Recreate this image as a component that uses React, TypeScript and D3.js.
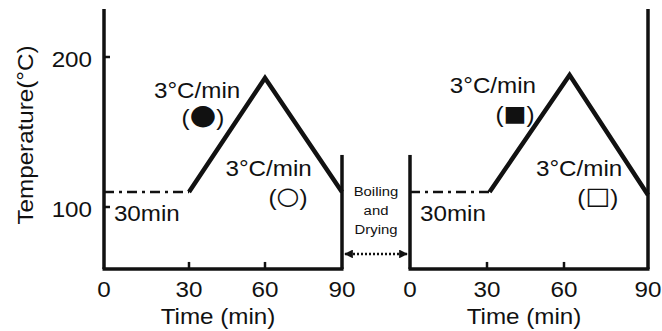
import React from 'react';
import * as d3 from 'd3';

// heating profile, panel A (circles) and panel B (squares)
const timeTicks = [0, 30, 60, 90];
const tempTicks = [100, 200];
const timesA = [0, 30, 60, 90];
const tempsA = [110, 110, 186, 110];
const timesB = [0, 31, 62, 90];
const tempsB = [110, 110, 188, 108];
const rateLabel = '3°C/min';
const holdLabel = '30min';
const markA = ['●', '○'];
const markB = ['■', '□'];
const gapLines = ['Boiling', 'and', 'Drying'];

const W = 662;
const H = 331;
const FONT = '"Liberation Sans", Arial, sans-serif';
const SX = 1.1;

const y = d3.scaleLinear().domain([100, 200]).range([207, 57]);
const xA = d3.scaleLinear().domain(timeTicks).range([104, 189, 265, 342]);
const xB = d3.scaleLinear().domain(timeTicks).range([410, 487, 564, 648]);
const yTop = 232;
const yBot = 58.7;
const yWall = 134.7;

const T = ({ x, y, size = 22, anchor = 'middle', rotate = 0, children }: any) => (
  <text
    transform={`translate(${x},${y}) rotate(${rotate}) scale(${SX},1)`}
    fontFamily={FONT}
    fontSize={size}
    textAnchor={anchor}
    fill="#111"
  >
    {children}
  </text>
);

const Mark = ({ x, y, sym, size }: any) => (
  <T x={x} y={y}>
    (<tspan fontFamily="'DejaVu Sans'" fontSize={size} dy={-1}>{sym}</tspan><tspan dy={1}>)</tspan>
  </T>
);

const Panel = ({ x, times, temps, marks, markSize, ann, leftTall }: any) => {
  const pts = times.map((t: number, i: number) => [x(t), y(temps[i])] as [number, number]);
  const line = d3.line();
  return (
    <g>
      {/* frame */}
      <line x1={x(0)} x2={x(0)} y1={y(leftTall ? yTop : yWall)} y2={y(yBot)} stroke="#111" strokeWidth={3.5} />
      <line x1={x(90)} x2={x(90)} y1={y(leftTall ? yWall : yTop)} y2={y(yBot)} stroke="#111" strokeWidth={3.5} />
      <line x1={x(0) - 1.5} x2={x(90) + 1.5} y1={y(yBot)} y2={y(yBot)} stroke="#111" strokeWidth={3.5} />
      {timeTicks.slice(1, 3).map(t => (
        <line key={t} x1={x(t)} x2={x(t)} y1={y(yBot)} y2={y(yBot) - 7} stroke="#111" strokeWidth={2.5} />
      ))}
      {timeTicks.map(t => (
        <T key={t} x={x(t)} y={297}>{t}</T>
      ))}
      <T x={(x(0) + x(90)) / 2 - 5} y={324}>Time (min)</T>
      {/* profile */}
      <path d={line([pts[0], pts[1]]) || ''} stroke="#111" strokeWidth={2.5} fill="none" strokeDasharray="10,5,3,5" />
      <path d={line(pts.slice(1)) || ''} stroke="#111" strokeWidth={4.5} fill="none" strokeLinejoin="miter" />
      <T x={x(ann[0][0])} y={y(ann[0][1])}>{rateLabel}</T>
      <Mark x={x(ann[1][0])} y={y(ann[1][1])} sym={marks[0]} size={markSize[0]} />
      <T x={x(ann[2][0])} y={y(ann[2][1])}>{rateLabel}</T>
      <Mark x={x(ann[3][0])} y={y(ann[3][1])} sym={marks[1]} size={markSize[1]} />
      <T x={x(ann[4][0])} y={y(ann[4][1])} anchor="start">{holdLabel}</T>
    </g>
  );
};

const annA = [[33.2, 172.7], [35.5, 154.7], [61.4, 120.7], [69, 101.3], [3.5, 90.7]];
const annB = [[32.3, 176], [40.9, 156.7], [65.4, 120.7], [72.1, 101.3], [3.9, 90.7]];

export default function App() {
  const mid = (xA(90) + xB(0)) / 2;
  const arrowY = y(68.7);
  return (
    <svg width={W} height={H} style={{ position: 'absolute', left: 0, top: 0, background: '#fff' }}>
      <defs>
        <marker id="ah" viewBox="0 0 10 10" refX="9" refY="5" markerWidth="3.5" markerHeight="3.5" orient="auto-start-reverse">
          <path d="M0,0 L10,5 L0,10 z" fill="#111" />
        </marker>
      </defs>
      {/* y axis */}
      {tempTicks.map(v => (
        <g key={v}>
          <line x1={xA(0)} x2={xA(0) + 6} y1={y(v)} y2={y(v)} stroke="#111" strokeWidth={2.5} />
          <T x={92} y={y(v) + 10} anchor="end">{v}</T>
        </g>
      ))}
      <T x={33} y={135} rotate={-90}>Temperature(°C)</T>
      <Panel x={xA} times={timesA} temps={tempsA} marks={markA} markSize={[28, 24]} ann={annA} leftTall={true} />
      <Panel x={xB} times={timesB} temps={tempsB} marks={markB} markSize={[22, 24]} ann={annB} leftTall={false} />
      {/* gap between runs */}
      {gapLines.map((s, i) => (
        <T key={s} x={mid} y={196 + i * 19} size={13.5}>{s}</T>
      ))}
      <line
        x1={xA(90) + 3}
        x2={xB(0) - 3}
        y1={arrowY}
        y2={arrowY}
        stroke="#111"
        strokeWidth={2.5}
        strokeDasharray="2,2"
        markerStart="url(#ah)"
        markerEnd="url(#ah)"
      />
    </svg>
  );
}
